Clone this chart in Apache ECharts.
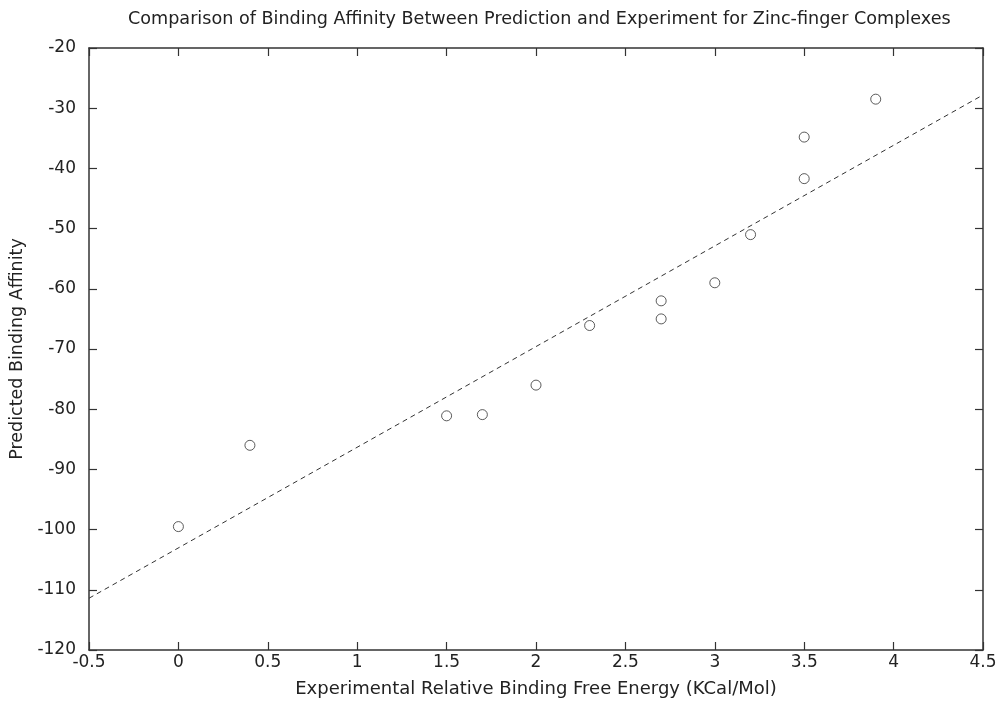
<!DOCTYPE html>
<html>
<head>
<meta charset="utf-8">
<script src="https://cdn.jsdelivr.net/npm/echarts@6/dist/echarts.min.js"></script>
<style>
  html, body { margin: 0; padding: 0; background: #fff; }
  #chart { width: 1001px; height: 712px; }
</style>
</head>
<body>
<div id="chart"></div>
<script>
// experimental energy vs predicted affinity
const expEnergy = [0, 0.4, 1.5, 1.7, 2.0, 2.3, 2.7, 2.7, 3.0, 3.2, 3.5, 3.5, 3.9]
const predAffinity = [-99.5, -86, -81.1, -80.9, -76, -66.1, -62, -65, -59, -51, -41.7, -34.8, -28.5]
// fitted line, read at the plot edges
const fitX = [-0.5, 4.5]
const fitY = [-111.4, -27.8]

const xTicks = { min: -0.5, max: 4.5, interval: 0.5 }
const yTicks = { min: -120, max: -20, interval: 10 }

const ink = '#333'
const font = 'DejaVu Sans, Verdana, sans-serif'

function axisBase(ticks, showLabel, extra) {
  return Object.assign({
    type: 'value',
    min: ticks.min,
    max: ticks.max,
    interval: ticks.interval,
    splitLine: { show: false },
    axisLine: { show: true, onZero: false, lineStyle: { color: ink, width: 1.5 } },
    axisTick: { show: true, inside: true, length: 8, lineStyle: { color: ink, width: 1.2 } },
    axisLabel: {
      show: showLabel,
      color: '#222',
      fontFamily: font,
      fontSize: 17,
      formatter: v => String(Math.round(v * 10) / 10)
    }
  }, extra)
}

const chart = echarts.init(document.getElementById('chart'))
chart.setOption({
  animation: false,
  backgroundColor: '#fff',
  // title sits centred over the plot area, not the page
  title: {
    text: 'Comparison of Binding Affinity Between Prediction and Experiment for Zinc-finger Complexes',
    left: 123,
    top: 5,
    textStyle: { color: '#222', fontFamily: font, fontSize: 17.6, fontWeight: 'normal' }
  },
  grid: { left: 89, right: 18, top: 48, bottom: 62, outerBoundsMode: 'none' },
  xAxis: [
    axisBase(xTicks, true, {
      position: 'bottom',
      name: 'Experimental Relative Binding Free Energy (KCal/Mol)',
      nameLocation: 'middle',
      nameGap: 30,
      nameTextStyle: { color: '#222', fontFamily: font, fontSize: 18 },
      axisLabel: Object.assign(axisBase(xTicks, true).axisLabel, { margin: 4 })
    }),
    axisBase(xTicks, false, { position: 'top' })
  ],
  yAxis: [
    axisBase(yTicks, true, {
      position: 'left',
      name: 'Predicted Binding Affinity',
      nameLocation: 'middle',
      nameGap: 60,
      nameTextStyle: { color: '#222', fontFamily: font, fontSize: 17.5 },
      axisLabel: Object.assign(axisBase(yTicks, true).axisLabel, { margin: 13 })
    }),
    axisBase(yTicks, false, { position: 'right' })
  ],
  series: [
    {
      type: 'line',
      xAxisIndex: 0,
      yAxisIndex: 0,
      data: fitX.map((x, i) => [x, fitY[i]]),
      symbol: 'none',
      lineStyle: { color: ink, width: 1, type: [5, 4] },
      z: 1
    },
    {
      type: 'scatter',
      xAxisIndex: 0,
      yAxisIndex: 0,
      data: expEnergy.map((x, i) => [x, predAffinity[i]]),
      symbol: 'circle',
      symbolSize: 10,
      itemStyle: { color: 'rgba(255,255,255,0)', borderColor: ink, borderWidth: 1 },
      z: 2
    }
  ]
})
</script>
</body>
</html>
